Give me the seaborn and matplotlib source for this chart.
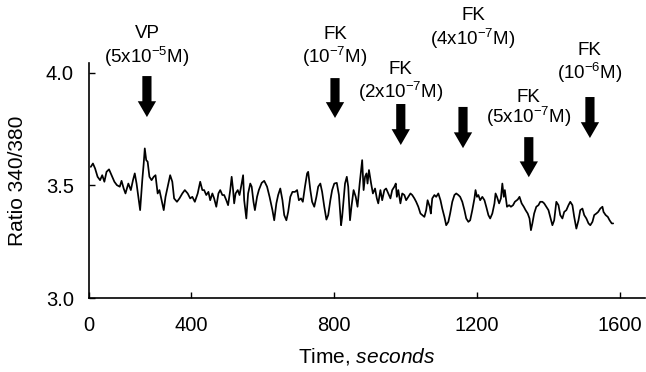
import matplotlib
matplotlib.use("Agg")
import matplotlib.pyplot as plt
import seaborn as sns
import pandas as pd

# ---------------- data ----------------
time_s = [120, 126, 132, 139, 146, 152, 158, 164, 171, 178, 186, 193, 201, 206, 212, 217,
          225, 232, 238, 243, 248, 253, 258, 264, 268, 271, 275, 279, 284, 290, 296, 301,
          307, 312, 318, 324, 329, 337, 342, 348, 353, 361, 368, 376, 383, 391, 398, 404,
          411, 419, 426, 432, 437, 443, 449, 454, 460, 465, 471, 477, 482, 488, 493, 499,
          504, 510, 514, 518, 521, 525, 531, 536, 542, 546, 549, 555, 560, 566, 570, 575,
          579, 585, 590, 598, 605, 613, 620, 628, 633, 639, 644, 650, 656, 661, 667, 672,
          678, 684, 691, 697, 702, 708, 713, 719, 725, 728, 734, 739, 745, 751, 756, 762,
          767, 773, 779, 784, 790, 795, 801, 808, 814, 820, 823,
          831, 836, 840, 845, 849, 855, 861, 866, 872, 876, 879, 883, 887, 891, 894, 898,
          904, 909, 915, 920, 924, 930, 935, 941, 946, 952, 958, 963, 969, 973, 976, 980,
          986, 991, 997, 1002, 1008, 1014, 1019, 1025, 1030, 1036, 1042, 1047, 1053, 1058,
          1062, 1068, 1071, 1075, 1081, 1086, 1092, 1098, 1103, 1109, 1114, 1120, 1125, 1131,
          1137, 1142, 1148, 1153, 1159, 1165, 1170, 1176, 1181, 1187, 1193, 1196, 1200, 1204,
          1209, 1215, 1221, 1226, 1232, 1237, 1243, 1249, 1252, 1256, 1262, 1267, 1271, 1275,
          1278, 1284, 1290, 1295, 1301, 1306, 1314, 1319, 1325, 1331, 1336, 1342, 1347, 1351,
          1355, 1360, 1366, 1372, 1377, 1383, 1388, 1394, 1400, 1405, 1411, 1416, 1422, 1428,
          1433, 1439, 1444, 1450, 1456, 1461, 1467, 1472, 1478, 1484, 1489, 1495, 1500, 1506,
          1512, 1517, 1523, 1528, 1534, 1539, 1545, 1551, 1554, 1560, 1566, 1571, 1577, 1581]

ratio = [3.582, 3.597, 3.575, 3.538, 3.523, 3.545, 3.516, 3.560, 3.571, 3.545, 3.516, 3.501,
         3.494, 3.520, 3.486, 3.464, 3.508, 3.479, 3.523, 3.553, 3.508, 3.449, 3.390, 3.523,
         3.597, 3.664, 3.612, 3.605, 3.538, 3.523, 3.538, 3.545, 3.464, 3.479, 3.434, 3.390,
         3.449, 3.508, 3.545, 3.516, 3.442, 3.427, 3.442, 3.464, 3.479, 3.464, 3.442, 3.449,
         3.427, 3.464, 3.516, 3.479, 3.479, 3.457, 3.471, 3.434, 3.464, 3.442, 3.405, 3.464,
         3.479, 3.457, 3.457, 3.434, 3.412, 3.479, 3.538, 3.479, 3.420, 3.464, 3.479, 3.457,
         3.508, 3.545, 3.434, 3.353, 3.464, 3.508, 3.494, 3.427, 3.390, 3.449, 3.479, 3.511,
         3.520, 3.494, 3.449, 3.390, 3.345, 3.420, 3.457, 3.486, 3.434, 3.368, 3.345, 3.382,
         3.449, 3.471, 3.471, 3.479, 3.434, 3.442, 3.427, 3.494, 3.553, 3.560, 3.479, 3.427,
         3.405, 3.449, 3.494, 3.508, 3.471, 3.405, 3.348, 3.368, 3.434, 3.479, 3.508, 3.511,
         3.457, 3.323, 3.360,
         3.508, 3.538, 3.494, 3.345, 3.405, 3.479, 3.449, 3.405, 3.508, 3.568, 3.612, 3.479,
         3.538, 3.553, 3.508, 3.568, 3.508, 3.464, 3.486, 3.442, 3.420, 3.479, 3.434, 3.479,
         3.486, 3.464, 3.442, 3.479, 3.494, 3.508, 3.449, 3.479, 3.420, 3.464, 3.457, 3.434,
         3.449, 3.464, 3.457, 3.442, 3.427, 3.405, 3.375, 3.368, 3.360, 3.390, 3.434, 3.405,
         3.375, 3.442, 3.457, 3.449, 3.464, 3.434, 3.397, 3.360, 3.323, 3.338, 3.375, 3.427,
         3.457, 3.464, 3.457, 3.449, 3.427, 3.390, 3.353, 3.338, 3.345, 3.390, 3.442, 3.479,
         3.449, 3.457, 3.434, 3.449, 3.434, 3.405, 3.368, 3.353, 3.375, 3.420, 3.464, 3.449,
         3.420, 3.442, 3.508, 3.449, 3.479, 3.405, 3.412, 3.405, 3.412, 3.427, 3.437, 3.449,
         3.420, 3.405, 3.390, 3.375, 3.353, 3.301, 3.331, 3.375, 3.405, 3.412, 3.427, 3.427,
         3.420, 3.405, 3.390, 3.360, 3.323, 3.345, 3.427, 3.412, 3.368, 3.353, 3.382, 3.390,
         3.412, 3.427, 3.412, 3.360, 3.308, 3.345, 3.390, 3.397, 3.368, 3.353, 3.331, 3.323,
         3.338, 3.368, 3.375, 3.382, 3.397, 3.405, 3.382, 3.368, 3.360, 3.345, 3.331, 3.331]

event_drug = ["VP", "FK", "FK", "FK", "FK", "FK"]
event_conc = ["(5x10$^{-5}$M)", "(10$^{-7}$M)", "(2x10$^{-7}$M)",
              "(4x10$^{-7}$M)", "(5x10$^{-7}$M)", "(10$^{-6}$M)"]
event_time = [277, 803, 987, 1161, 1345, 1516]

x_tick_values = [115, 400, 800, 1200, 1600]
x_tick_labels = ["0", "400", "800", "1200", "1600"]
y_tick_values = [3.0, 3.5, 4.0]

# ---------------- layout (not data) ----------------
arrow_top = [3.985, 3.976, 3.861, 3.848, 3.714, 3.892]
arrow_tip = [3.803, 3.799, 3.679, 3.665, 3.536, 3.710]
name_y = [4.172, 4.168, 4.012, 4.254, 3.890, 4.099]
conc_y = [4.068, 4.068, 3.916, 4.148, 3.803, 4.001]
label_dx = [0, 0, 0, 28, 0, 0]

# ---------------- style ----------------
sns.set_theme(style="ticks")
plt.rcParams["font.family"] = ["Liberation Sans", "DejaVu Sans"]
plt.rcParams["mathtext.fontset"] = "custom"
plt.rcParams["mathtext.rm"] = "Liberation Sans"
plt.rcParams["mathtext.it"] = "Liberation Sans:italic"
plt.rcParams["mathtext.bf"] = "Liberation Sans:bold"

fig = plt.figure(figsize=(6.46, 3.72), dpi=100)
ax = fig.add_axes([89 / 646, 74 / 372, 556 / 646, 235 / 372])

df = pd.DataFrame({"time": time_s, "ratio": ratio})
sns.lineplot(data=df, x="time", y="ratio", ax=ax, color="black",
             linewidth=1.25, estimator=None, sort=False)

ax.set_xlim(115, 1670)
ax.set_ylim(3.0, 4.043)
ax.set_xticks(x_tick_values)
ax.set_xticklabels(x_tick_labels)
ax.set_yticks(y_tick_values)
ax.set_yticklabels([f"{v:.1f}" for v in y_tick_values])

for s in ["top", "right"]:
    ax.spines[s].set_visible(False)
for s in ["left", "bottom"]:
    ax.spines[s].set_linewidth(1.2)
    ax.spines[s].set_color("black")

ax.tick_params(axis="x", direction="in", length=4, width=1, pad=13,
               labelsize=14.5, colors="black")
ax.tick_params(axis="y", direction="in", length=4, width=1, pad=11,
               labelsize=14.5, colors="black")

ax.set_xlabel("Time, $\\mathit{seconds}$", fontsize=15, color="black")
ax.set_ylabel("Ratio 340/380", fontsize=15, color="black")
ax.xaxis.set_label_coords(0.5, -0.205)
ax.yaxis.set_label_coords(-0.112, 0.5)

for i in range(len(event_time)):
    t = event_time[i]
    ax.annotate("", xy=(t, arrow_tip[i]), xytext=(t, arrow_top[i]),
                arrowprops=dict(arrowstyle="simple,head_length=0.95,head_width=1.1,tail_width=0.55",
                                fc="black", ec="none", shrinkA=0, shrinkB=0,
                                mutation_scale=12),
                annotation_clip=False)
    ax.text(t + label_dx[i], name_y[i], event_drug[i], ha="center", va="center",
            fontsize=13.5, color="black", clip_on=False)
    ax.text(t + label_dx[i], conc_y[i], event_conc[i], ha="center", va="center",
            fontsize=13.5, color="black", clip_on=False)

fig.savefig("out.png", dpi=100, facecolor="white")
